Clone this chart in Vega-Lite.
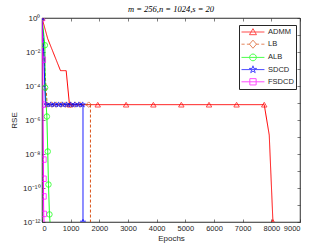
{
  "$schema": "https://vega.github.io/schema/vega-lite/v6.json",
  "autosize": "none",
  "width": 258,
  "height": 204,
  "padding": {"left": 42, "top": 18, "right": 32, "bottom": 27},
  "background": "white",
  "title": {"text": "m = 256,n = 1024,s = 20", "font": "Liberation Serif", "fontSize": 8.5, "fontWeight": "normal", "fontStyle": "italic", "color": "#000", "offset": 1, "anchor": "middle"},
  "datasets": {
    "lines": [
      {"s": "ADMM", "x": 0, "y": 1}, {"s": "ADMM", "x": 200, "y": 0.06}, {"s": "ADMM", "x": 645, "y": 0.0008}, {"s": "ADMM", "x": 843, "y": 0.0008}, {"s": "ADMM", "x": 958, "y": 8e-6}, {"s": "ADMM", "x": 7752, "y": 8e-6}, {"s": "ADMM", "x": 7927, "y": 1.3e-7}, {"s": "ADMM", "x": 8056, "y": 1e-12},
      {"s": "LB", "x": 0, "y": 1}, {"s": "LB", "x": 60, "y": 0.01}, {"s": "LB", "x": 180, "y": 8e-6}, {"s": "LB", "x": 1690, "y": 8e-6}, {"s": "LB", "x": 1690, "y": 1e-12},
      {"s": "ALB", "x": 0, "y": 1}, {"s": "ALB", "x": 100, "y": 0.025}, {"s": "ALB", "x": 110, "y": 8e-5}, {"s": "ALB", "x": 170, "y": 1.6e-6}, {"s": "ALB", "x": 200, "y": 1.4e-8}, {"s": "ALB", "x": 226, "y": 1.6e-10}, {"s": "ALB", "x": 260, "y": 2.8e-12}, {"s": "ALB", "x": 280, "y": 1e-12},
      {"s": "SDCD", "x": 0, "y": 1}, {"s": "SDCD", "x": 60, "y": 0.01}, {"s": "SDCD", "x": 120, "y": 8e-6}, {"s": "SDCD", "x": 1430, "y": 8e-6}, {"s": "SDCD", "x": 1430, "y": 1e-12},
      {"s": "FSDCD", "x": 0, "y": 1}, {"s": "FSDCD", "x": 28, "y": 0.0035}, {"s": "FSDCD", "x": 35, "y": 8e-6}, {"s": "FSDCD", "x": 50, "y": 4.7e-9}, {"s": "FSDCD", "x": 52, "y": 3.5e-10}, {"s": "FSDCD", "x": 52, "y": 3.2e-11}, {"s": "FSDCD", "x": 60, "y": 3e-12}, {"s": "FSDCD", "x": 70, "y": 1e-12}
    ],
    "markers": [
      {"s": "ADMM", "x": 0, "y": 1}, {"s": "ADMM", "x": 972, "y": 8e-6}, {"s": "ADMM", "x": 1945, "y": 8e-6}, {"s": "ADMM", "x": 2934, "y": 8e-6}, {"s": "ADMM", "x": 3885, "y": 8e-6}, {"s": "ADMM", "x": 4860, "y": 8e-6}, {"s": "ADMM", "x": 5826, "y": 8e-6}, {"s": "ADMM", "x": 6788, "y": 8e-6}, {"s": "ADMM", "x": 7752, "y": 8e-6}, {"s": "ADMM", "x": 8056, "y": 1e-12},
      {"s": "LB", "x": 0, "y": 1}, {"s": "LB", "x": 180, "y": 8e-6}, {"s": "LB", "x": 340, "y": 8e-6}, {"s": "LB", "x": 495, "y": 8e-6}, {"s": "LB", "x": 670, "y": 8e-6}, {"s": "LB", "x": 820, "y": 8e-6}, {"s": "LB", "x": 990, "y": 8e-6}, {"s": "LB", "x": 1155, "y": 8e-6}, {"s": "LB", "x": 1330, "y": 8e-6}, {"s": "LB", "x": 1630, "y": 8e-6},
      {"s": "ALB", "x": 0, "y": 1}, {"s": "ALB", "x": 100, "y": 0.025}, {"s": "ALB", "x": 110, "y": 8e-5}, {"s": "ALB", "x": 170, "y": 1.6e-6}, {"s": "ALB", "x": 200, "y": 1.4e-8}, {"s": "ALB", "x": 226, "y": 1.6e-10}, {"s": "ALB", "x": 260, "y": 2.8e-12},
      {"s": "SDCD", "x": 0, "y": 1}, {"s": "SDCD", "x": 160, "y": 8e-6}, {"s": "SDCD", "x": 300, "y": 8e-6}, {"s": "SDCD", "x": 440, "y": 8e-6}, {"s": "SDCD", "x": 580, "y": 8e-6}, {"s": "SDCD", "x": 720, "y": 8e-6}, {"s": "SDCD", "x": 860, "y": 8e-6}, {"s": "SDCD", "x": 1000, "y": 8e-6}, {"s": "SDCD", "x": 1140, "y": 8e-6}, {"s": "SDCD", "x": 1280, "y": 8e-6}, {"s": "SDCD", "x": 1420, "y": 8e-6}, {"s": "SDCD", "x": 1430, "y": 1e-12},
      {"s": "FSDCD", "x": 0, "y": 1}, {"s": "FSDCD", "x": 28, "y": 0.0035}, {"s": "FSDCD", "x": 35, "y": 8e-6}, {"s": "FSDCD", "x": 50, "y": 4.7e-9}, {"s": "FSDCD", "x": 52, "y": 3.5e-10}, {"s": "FSDCD", "x": 52, "y": 3.2e-11}, {"s": "FSDCD", "x": 60, "y": 3e-12}
    ]
  },
  "resolve": {"axis": {"x": "independent", "y": "independent"}, "scale": {"color": "independent", "shape": "independent"}},
  "layer": [
    {
      "data": {"name": "lines"},
      "mark": {"type": "line", "strokeWidth": 1, "clip": true},
      "encoding": {
        "x": {"field": "x", "type": "quantitative", "scale": {"domain": [0, 9000], "nice": false}, "axis": {"title": "Epochs", "values": [0,1000,2000,3000,4000,5000,6000,7000,8000,9000], "tickSize": -3, "labelPadding": 5, "titlePadding": 3, "format": "d"}},
        "y": {"field": "y", "type": "quantitative", "scale": {"type": "log", "domain": [1e-12, 1], "nice": false}, "axis": {"title": "RSE", "values": [1, 0.01, 0.0001, 1e-6, 1e-8, 1e-10, 1e-12], "tickSize": -3, "labelPadding": 5, "titlePadding": 4, "labelFontSize": 8, "labelExpr": "datum.value > 0.5 ? '10⁰' : datum.value > 5e-3 ? '10⁻²' : datum.value > 5e-5 ? '10⁻⁴' : datum.value > 5e-7 ? '10⁻⁶' : datum.value > 5e-9 ? '10⁻⁸' : datum.value > 5e-11 ? '10⁻¹⁰' : '10⁻¹²'"}},
        "color": {"field": "s", "type": "nominal", "scale": {"domain": ["ADMM", "LB", "ALB", "SDCD", "FSDCD"], "range": ["#ff0000", "#d95319", "#00ff00", "#0000ff", "#ff00ff"]}, "legend": null},
        "strokeDash": {"field": "s", "type": "nominal", "scale": {"domain": ["ADMM", "LB", "ALB", "SDCD", "FSDCD"], "range": [[1,0],[3,2],[1,0],[1,0],[1,0]]}, "legend": null},
        "detail": {"field": "s"}
      }
    },
    {
      "data": {"name": "markers"},
      "mark": {"type": "point", "filled": false, "strokeWidth": 1, "size": 30, "clip": true},
      "encoding": {
        "x": {"field": "x", "type": "quantitative", "scale": {"domain": [0, 9000], "nice": false}, "axis": {"orient": "top", "title": null, "labels": false, "values": [0,1000,2000,3000,4000,5000,6000,7000,8000,9000], "tickSize": -3}},
        "y": {"field": "y", "type": "quantitative", "scale": {"type": "log", "domain": [1e-12, 1], "nice": false}, "axis": {"orient": "right", "title": null, "labels": false, "values": [1, 0.1, 0.01, 0.001, 0.0001, 1e-5, 1e-6, 1e-7, 1e-8, 1e-9, 1e-10, 1e-11, 1e-12], "tickSize": -3}},
        "color": {"field": "s", "type": "nominal", "scale": {"domain": ["ADMM", "LB", "ALB", "SDCD", "FSDCD"], "range": ["#ff0000", "#d95319", "#00ff00", "#0000ff", "#ff00ff"]}, "legend": null},
        "shape": {"field": "s", "type": "nominal", "scale": {"domain": ["ADMM", "LB", "ALB", "SDCD", "FSDCD"], "range": ["triangle-up", "diamond", "circle", "M0,-1L0.2245,-0.309L0.951,-0.309L0.363,0.118L0.588,0.809L0,0.382L-0.588,0.809L-0.363,0.118L-0.951,-0.309L-0.2245,-0.309Z", "square"]}, "legend": null}
      }
    },
    {
      "data": {"name": "markers"},
      "transform": [{"filter": "datum.x < 0"}],
      "mark": {"type": "point", "filled": false, "strokeWidth": 1},
      "encoding": {
        "color": {"field": "s", "type": "nominal", "scale": {"domain": ["ADMM", "LB", "ALB", "SDCD", "FSDCD"], "range": ["#ff0000", "#d95319", "#00ff00", "#0000ff", "#ff00ff"]}},
        "shape": {"field": "s", "type": "nominal", "scale": {"domain": ["ADMM", "LB", "ALB", "SDCD", "FSDCD"], "range": [
          "M-1,0H4.1M0.77,0.6L1.55,-0.75L2.33,0.6Z",
          "M-1,0H-0.3M0.2,0H0.9M2.2,0H2.9M3.4,0H4.1M1.55,-0.9L2.33,0L1.55,0.9L0.77,0Z",
          "M-1,0H4.1M0.8,0A0.75,0.75 0 1,0 2.3,0A0.75,0.75 0 1,0 0.8,0Z",
          "M-1,0H4.1M1.55,-0.85L1.741,-0.263L2.358,-0.263L1.859,0.1L2.05,0.688L1.55,0.325L1.05,0.688L1.241,0.1L0.742,-0.263L1.359,-0.263Z",
          "M-1,0H4.1M0.85,-0.7H2.25V0.7H0.85Z"
        ]}}
      }
    }
  ],
  "config": {
    "view": {"stroke": "#262626", "strokeWidth": 0.6},
    "font": "Liberation Sans",
    "axis": {"grid": false, "domainColor": "#262626", "tickColor": "#262626", "labelColor": "#262626", "titleColor": "#262626", "labelFont": "Liberation Sans", "titleFont": "Liberation Sans", "labelFontSize": 7.5, "titleFontSize": 8, "titleFontWeight": "normal", "domainWidth": 0.6, "tickWidth": 0.6},
    "legend": {"title": null, "orient": "none", "legendX": 197, "legendY": 7, "fillColor": "white", "strokeColor": "#262626", "padding": 2, "labelFontSize": 7.5, "labelFont": "Liberation Sans", "labelColor": "#262626", "symbolSize": 81, "rowPadding": 0.2, "labelOffset": 17, "symbolStrokeWidth": 1}
  }
}
